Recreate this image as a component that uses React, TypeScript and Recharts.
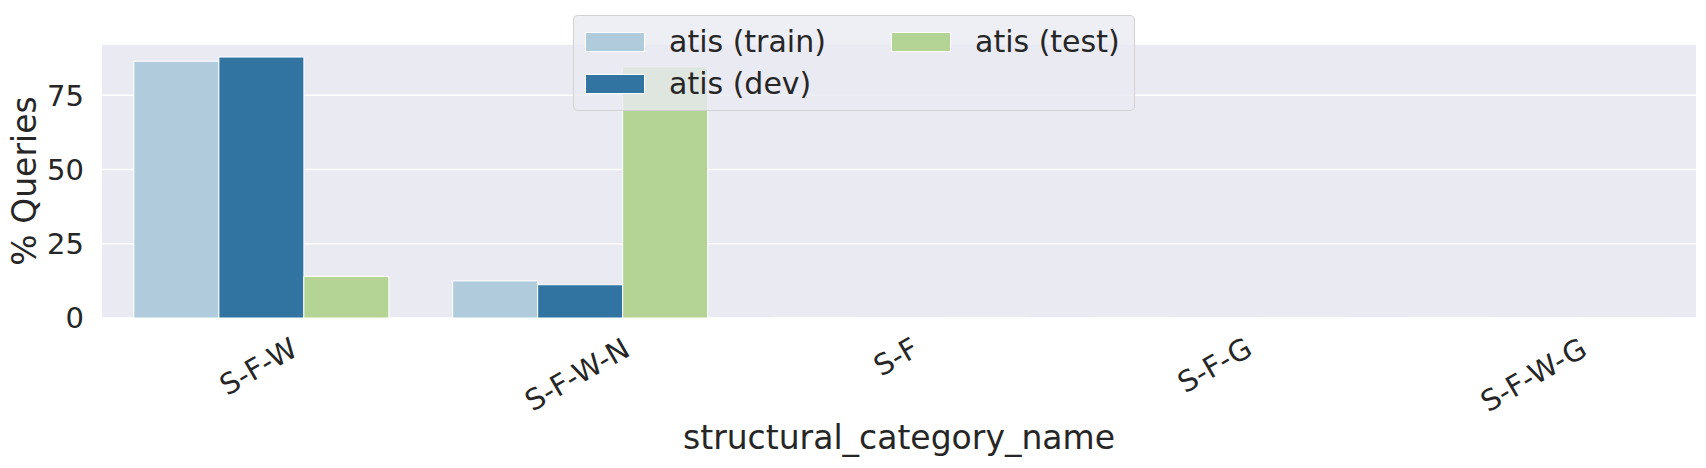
import { BarChart, Bar, XAxis, YAxis, CartesianGrid, Legend } from 'recharts';

const categories = ['S-F-W', 'S-F-W-N', 'S-F', 'S-F-G', 'S-F-W-G'];
const trainPct = [86.5, 12.5, 0.2, 0.1, 0.1];
const devPct = [87.9, 11.2, 0.1, 0.1, 0.1];
const testPct = [14.0, 84.6, 0.1, 0.1, 0.2];
const yTicks = [0, 25, 50, 75];

const seriesNames = ['atis (train)', 'atis (dev)', 'atis (test)'];
const seriesColors = ['#b0cbdc', '#3274a1', '#b3d495'];

const data = categories.map((name, i) => ({
  name,
  train: trainPct[i],
  dev: devPct[i],
  test: testPct[i],
}));

const FONT = '"DejaVu Sans", sans-serif';
const TEXT = '#262626';

// rough DejaVu Sans advance widths (em) for the tick glyphs
const charW: Record<string, number> = { S: 0.635, '-': 0.361, F: 0.575, W: 0.989, N: 0.748, G: 0.775 };
const TICK_FS = 29;

function RotatedTick(props: any) {
  const { x, y, payload } = props;
  const label = String(payload.value);
  let w = 0;
  for (const ch of label) w += (charW[ch] ?? 0.6) * TICK_FS;
  const cx = x - 3;
  const cy = y + 18 + (w * 0.5 + 19) / 2;
  return (
    <text
      x={cx}
      y={cy}
      textAnchor="middle"
      dominantBaseline="central"
      transform={`rotate(-30, ${cx}, ${cy})`}
      fontSize={TICK_FS}
      fontFamily={FONT}
      fill={TEXT}
    >
      {label}
    </text>
  );
}

function LegendBox() {
  const items = [
    { name: seriesNames[0], color: seriesColors[0], left: 11, top: 15 },
    { name: seriesNames[1], color: seriesColors[1], left: 11, top: 57 },
    { name: seriesNames[2], color: seriesColors[2], left: 317, top: 15 },
  ];
  return (
    <div
      style={{
        position: 'relative',
        width: 560,
        height: 94,
        background: 'rgba(234,234,242,0.8)',
        border: '1px solid rgba(204,204,204,0.8)',
        borderRadius: 5,
        fontFamily: FONT,
        fontSize: 30,
        color: TEXT,
      }}
    >
      {items.map((it) => (
        <div key={it.name} style={{ position: 'absolute', left: it.left, top: it.top, display: 'flex', alignItems: 'center', height: 22 }}>
          <div style={{ width: 60, height: 20, background: it.color, border: '1px solid #fff', boxSizing: 'border-box' }} />
          <span style={{ marginLeft: 24, whiteSpace: 'nowrap', lineHeight: '22px' }}>{it.name}</span>
        </div>
      ))}
    </div>
  );
}

export default function App() {
  return (
    <div style={{ position: 'absolute', left: 0, top: 0, width: 1706, height: 468, background: '#fff' }}>
      <BarChart
        width={1706}
        height={468}
        data={data}
        margin={{ top: 44, right: 10, bottom: 0, left: 0 }}
        barCategoryGap="10%"
        barGap={0}
      >
        <CartesianGrid fill="#eaeaf2" stroke="#ffffff" strokeWidth={1.5} vertical={false} />
        <XAxis
          dataKey="name"
          height={150}
          axisLine={false}
          tickLine={false}
          tickSize={0}
          tickMargin={0}
          interval={0}
          tick={<RotatedTick />}
          label={{
            value: 'structural_category_name',
            position: 'insideBottom',
            offset: 19,
            fontSize: 33,
            fontFamily: FONT,
            fill: TEXT,
          }}
        />
        <YAxis
          width={102}
          domain={[0, 92.3]}
          ticks={yTicks}
          axisLine={false}
          tickLine={false}
          tickSize={0}
          tickMargin={18}
          tick={{ fontSize: TICK_FS, fontFamily: FONT, fill: TEXT }}
          label={{
            value: '% Queries',
            content: (p: any) => {
              const vb = p.viewBox || {};
              const cy = (vb.y ?? 44) + (vb.height ?? 274) / 2;
              return (
                <text
                  x={24}
                  y={cy}
                  textAnchor="middle"
                  dominantBaseline="central"
                  transform={`rotate(-90, 24, ${cy})`}
                  fontSize={33}
                  fontFamily={FONT}
                  fill={TEXT}
                >
                  % Queries
                </text>
              );
            },
          }}
        />
        <Legend
          layout="vertical"
          align="center"
          verticalAlign="middle"
          content={<LegendBox />}
          wrapperStyle={{ position: 'absolute', left: 573, top: 15, width: 'auto', height: 'auto' }}
        />
        <Bar dataKey="train" name={seriesNames[0]} fill={seriesColors[0]} stroke="#fff" strokeWidth={1} isAnimationActive={false} />
        <Bar dataKey="dev" name={seriesNames[1]} fill={seriesColors[1]} stroke="#fff" strokeWidth={1} isAnimationActive={false} />
        <Bar dataKey="test" name={seriesNames[2]} fill={seriesColors[2]} stroke="#fff" strokeWidth={1} isAnimationActive={false} />
      </BarChart>
    </div>
  );
}
